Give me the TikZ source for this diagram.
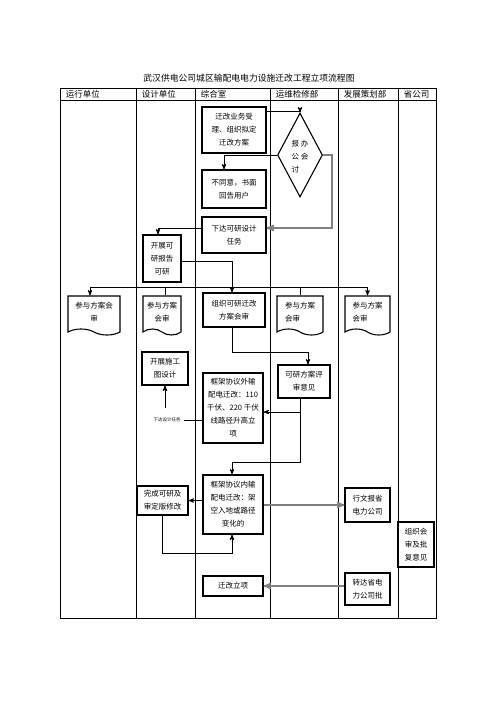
\documentclass[tikz,border=0pt]{standalone}
\usepackage{fontspec}
\setmainfont{Noto Sans CJK SC}
\usetikzlibrary{arrows,shapes.geometric,shapes.symbols}

\begin{document}
\begin{tikzpicture}[x=1pt,y=-1pt,->,>=stealth',line width=0.9pt,
  font=\fontsize{7.5}{13}\selectfont]
  \tikzstyle{box}=[draw,rectangle,line width=1.1pt,align=center,inner sep=1pt]
  \tikzstyle{doc}=[draw,tape,tape bend top=none,tape bend bottom=out and in,
    tape bend height=6pt,line width=1.1pt,align=center,inner sep=1pt]
  \tikzstyle{grayline}=[draw=black!50,line width=1.6pt]

  \useasboundingbox (0,0) rectangle (496,702);

  \node (title) at (249,78) {\fontsize{8.8}{10}\selectfont 武汉供电公司城区输配电电力设施迁改工程立项流程图};
  \begin{scope}[-]
    \draw (60,88) rectangle (436,618);
    \draw (60,100) -- (436,100);
    \foreach \x in {136,195,270,338,398}
      \draw (\x,88) -- (\x,618);
    \foreach \x/\t [count=\i] in {62/运行单位,138/设计单位,197/综合室,272/运维检修部,340/发展策划部,400/省公司}
      \node[anchor=west,font=\fontsize{8.5}{10}\selectfont] (head\i) at (\x,94) {\t};
  \end{scope}

  \node[box,minimum width=64pt,minimum height=46pt] (accept) at (234,130) {迁改业务受\\理、组织拟定\\迁改方案};
  \node[draw,diamond,line width=1.1pt,minimum width=45pt,minimum height=84pt,inner sep=0pt] (dia) at (300,155) {};
  \node[align=left] (diat) at (300,157) {报\ 办\\公\ 会\\讨};
  \node[box,minimum width=64pt,minimum height=38pt] (reject) at (234,189) {不同意，书面\\回告用户};
  \node[box,minimum width=64pt,minimum height=36pt] (task) at (234,235) {下达可研设计\\任务};
  \node[box,minimum width=38pt,minimum height=47pt] (fsr) at (162,258.5) {开展可\\研报告\\可研};

  \node[doc,minimum width=52pt,minimum height=39pt] (doc1) at (94,312.5) {参与方案会\\审};
  \node[doc,minimum width=38pt,minimum height=39pt] (doc2) at (162,312.5) {参与方案\\会审};
  \node[box,minimum width=62pt,minimum height=34pt] (review) at (234,310) {组织可研迁改\\方案会审};
  \node[doc,minimum width=46pt,minimum height=39pt,align=left] (doc4) at (300,312.5) {参与方案\\会审\ \ \ \ \ \ \ };
  \node[doc,minimum width=45pt,minimum height=39pt,align=left] (doc5) at (367.5,312.5) {参与方案\\会审\ \ \ \ \ \ \ };

  \node[box,minimum width=46pt,minimum height=33pt] (cdesign) at (165,368.5) {开展施工\\图设计};
  \node[box,minimum width=52pt,minimum height=33pt] (opinion) at (304,381.5) {可研方案评\\审意见};
  \node[box,minimum width=60pt,minimum height=70pt] (outer) at (233,408) {框架协议外输\\配电迁改：110\\千伏、220 千伏\\线路径升高立\\项};
  \node[font=\fontsize{4.5}{5}\selectfont] (tdesign) at (167,420) {下达设计任务};

  \node[box,minimum width=51pt,minimum height=29pt] (finish) at (162.5,500.5) {完成可研及\\审定版修改};
  \node[box,minimum width=60pt,minimum height=59pt] (inner) at (233,504.5) {框架协议内输\\配电迁改：架\\空入地或路径\\变化的};
  \node[box,minimum width=45pt,minimum height=34pt] (report) at (367.5,505) {行文报省\\电力公司};
  \node[box,minimum width=36pt,minimum height=45pt] (approve) at (416,544.5) {组织会\\审及批\\复意见};
  \node[box,minimum width=45pt,minimum height=32pt] (relay) at (367.5,589) {转达省电\\力公司批};
  \node[box,minimum width=60pt,minimum height=20pt] (setup) at (233,586) {迁改立项};

  \draw ([yshift=-5pt]accept.north east) -| (dia.north);
  \draw (dia.west) -| ([xshift=-10pt]reject.north);
  \draw[grayline] (dia.east) -- ++(9,0) |- ([yshift=7pt]task.east);
  \draw ([yshift=7pt]task.west) -| ([xshift=-4pt]fsr.north);
  \draw ([yshift=-3pt]fsr.east) -| ([xshift=-2pt]review.north);

  \coordinate (bus) at (232,287);
  \draw (bus) -| ([xshift=-4pt]doc1.north);
  \draw (bus) -| (doc5.north);
  \draw[-] (bus) -| ([xshift=3pt]doc2.north);
  \draw[-] (bus) -| (doc4.north);

  \draw ([xshift=-2pt]review.south) -- ++(0,25) -| ([xshift=4pt]opinion.north);
  \draw ([xshift=-4pt]opinion.south) |- ([yshift=-4pt]outer.east);
  \draw ([xshift=-4pt]opinion.south) -- ++(0,64) -| ([xshift=-1pt]inner.north);
  \draw[-] (outer.west |- tdesign) -- (tdesign.east);
  \draw[shorten <=6pt] (tdesign.north -| cdesign.south) -- (cdesign.south);

  \draw (finish.east -| inner.west) -- (finish.east);
  \draw[grayline] (report.west -| inner.east) -- (report.west);
  \draw (finish.south) -- ++(0,38) -| ([xshift=-1pt]inner.south);
  \draw[grayline] ([yshift=3pt]relay.west) -- (setup.east);
\end{tikzpicture}
\end{document}
